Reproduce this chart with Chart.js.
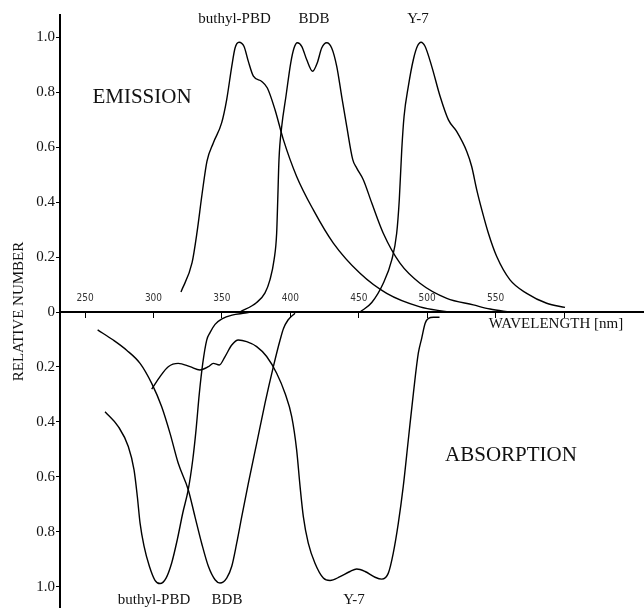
<!DOCTYPE html>
<html>
<head>
<meta charset="utf-8">
<script src="https://cdn.jsdelivr.net/npm/chart.js@4.4.1/dist/chart.umd.min.js"></script>
<style>
  html, body { margin: 0; padding: 0; background: #fff; }
  #wrap { width: 644px; height: 608px; position: relative; }
</style>
</head>
<body>
<div id="wrap"><canvas id="myChart"></canvas></div>
<script>
// wavelengths (nm) and relative numbers
// emission spectra (upwards)
const pbdEmWl  = [320.1, 328.2, 331.8, 335.5, 339.1, 343.7, 349.8, 353.5, 357.2, 359.6, 362.5, 366.1, 369.3, 373.0, 379.1, 383.2, 388.8, 394.9, 404.6, 416.8, 431.4, 450.9, 470.4, 494.7, 514.3];
const pbdEmVal = [0.073, 0.18, 0.29, 0.43, 0.55, 0.616, 0.689, 0.774, 0.895, 0.962, 0.983, 0.968, 0.913, 0.859, 0.84, 0.816, 0.737, 0.628, 0.494, 0.372, 0.251, 0.141, 0.068, 0.019, 0.001];

const bdbEmWl  = [363.2, 375.4, 381.5, 385.1, 388.1, 390.0, 390.8, 391.7, 393.7, 396.8, 400.3, 402.7, 405.1, 408.3, 411.9, 416.3, 419.7, 422.9, 426.6, 430.2, 433.9, 437.5, 441.2, 445.6, 448.5, 453.3, 459.5, 467.9, 480.1, 494.7, 514.3, 533.7, 545.9, 560.5];
const bdbEmVal = [0, 0.035, 0.07, 0.117, 0.19, 0.287, 0.409, 0.555, 0.676, 0.786, 0.908, 0.962, 0.981, 0.968, 0.92, 0.877, 0.908, 0.962, 0.981, 0.962, 0.895, 0.786, 0.676, 0.555, 0.524, 0.482, 0.397, 0.287, 0.178, 0.105, 0.05, 0.026, 0.011, 0];

const y7EmWl  = [450.9, 459.5, 467.9, 474.1, 477.7, 479.6, 481.4, 483.1, 486.2, 489.9, 492.8, 495.5, 498.4, 503.3, 509.4, 515.5, 521.5, 528.9, 532.5, 536.2, 539.9, 544.7, 550.8, 560.5, 572.7, 587.3, 600.7];
const y7EmVal = [0, 0.035, 0.105, 0.19, 0.287, 0.409, 0.591, 0.713, 0.822, 0.92, 0.968, 0.983, 0.968, 0.895, 0.786, 0.70, 0.658, 0.585, 0.53, 0.445, 0.372, 0.287, 0.202, 0.117, 0.068, 0.032, 0.017];

// absorption spectra (magnitudes, drawn downwards)
const pbdAbWl  = [264.6, 274.3, 281.6, 285.8, 288.2, 290.2, 293.1, 297.0, 301.1, 304.8, 309.2, 313.3, 317.4, 321.4, 325.4, 328.7, 331.1, 333.5, 336.0, 338.9, 341.3, 345.0, 350.0, 357.4, 366.9, 371.5];
const pbdAbVal = [0.363, 0.417, 0.49, 0.575, 0.672, 0.769, 0.853, 0.926, 0.977, 0.989, 0.969, 0.914, 0.829, 0.732, 0.647, 0.538, 0.429, 0.296, 0.187, 0.102, 0.075, 0.045, 0.025, 0.011, 0.004, 0];

const bdbAbWl  = [259.2, 270.6, 280.4, 290.2, 298.7, 306.0, 312.1, 318.1, 325.4, 330.3, 335.2, 340.1, 345.0, 348.6, 353.5, 357.2, 360.8, 364.5, 369.3, 375.4, 381.5, 387.6, 392.5, 395.0, 398.3, 403.4];
const bdbAbVal = [0.065, 0.102, 0.139, 0.187, 0.26, 0.345, 0.442, 0.551, 0.647, 0.745, 0.842, 0.926, 0.975, 0.987, 0.969, 0.926, 0.842, 0.745, 0.624, 0.478, 0.332, 0.199, 0.102, 0.06, 0.029, 0.004];

const y7AbWl  = [298.7, 304.8, 310.8, 318.1, 326.7, 334.0, 340.1, 343.7, 348.1, 352.3, 357.2, 362.0, 368.1, 375.4, 382.7, 390.0, 396.1, 401.0, 404.6, 407.1, 409.5, 413.1, 418.0, 424.1, 429.0, 436.3, 443.6, 448.5, 454.6, 461.9, 466.8, 471.6, 475.2, 478.9, 482.5, 486.2, 489.9, 493.5, 496.0, 498.5, 500.9, 504.6, 509.0];
const y7AbVal = [0.281, 0.235, 0.199, 0.187, 0.199, 0.211, 0.199, 0.187, 0.193, 0.162, 0.12, 0.102, 0.108, 0.126, 0.162, 0.223, 0.296, 0.381, 0.502, 0.635, 0.745, 0.842, 0.915, 0.969, 0.978, 0.964, 0.945, 0.936, 0.945, 0.966, 0.973, 0.951, 0.878, 0.769, 0.635, 0.465, 0.296, 0.15, 0.095, 0.041, 0.023, 0.019, 0.019];

// axis ticks
const xTicks = [250, 300, 350, 400, 450, 500, 550, 600];
const xTickLabels = ['250', '300', '350', '400', '450', '500', '550', ''];
const yTicks = [-1, -0.8, -0.6, -0.4, -0.2, 0, 0.2, 0.4, 0.6, 0.8, 1];

// text written on the plot, anchored in data coordinates
const notes = [
    { text: 'buthyl-PBD', x: 359.2, y: 1.067, size: 15 },
    { text: 'BDB', x: 417.3, y: 1.067, size: 15 },
    { text: 'Y-7', x: 493.3, y: 1.067, size: 15 },
    { text: 'EMISSION', x: 291.6, y: 0.783, size: 21 },
    { text: 'ABSORPTION', x: 561.2, y: -0.521, size: 21 },
    { text: 'WAVELENGTH [nm]', x: 594.1, y: -0.044, size: 15 },
    { text: 'buthyl-PBD', x: 300.4, y: -1.049, size: 15 },
    { text: 'BDB', x: 353.7, y: -1.049, size: 15 },
    { text: 'Y-7', x: 446.5, y: -1.049, size: 15 }
];

const serif = '"Liberation Serif", "Times New Roman", serif';
Chart.defaults.font.family = serif;
Chart.defaults.color = '#111';

const pts = (wl, val, sign) => wl.map((w, i) => ({ x: w, y: sign * val[i] }));
const curve = (data) => ({
    data: data,
    borderColor: '#000',
    borderWidth: 1.4,
    pointRadius: 0,
    fill: false,
    cubicInterpolationMode: 'monotone'
});

const notesPlugin = {
    id: 'notes',
    afterDatasetsDraw(chart) {
        const c = chart.ctx;
        const xs = chart.scales.x, ys = chart.scales.y;
        c.save();
        c.fillStyle = '#111';
        c.textAlign = 'center';
        c.textBaseline = 'middle';
        notes.forEach(n => {
            c.font = n.size + 'px ' + serif;
            c.fillText(n.text, xs.getPixelForValue(n.x), ys.getPixelForValue(n.y));
        });
        c.restore();
    }
};

const ctx = document.getElementById('myChart').getContext('2d');
const myChart = new Chart(ctx, {
    type: 'line',
    data: {
        datasets: [
            curve(pts(pbdEmWl, pbdEmVal, 1)),
            curve(pts(bdbEmWl, bdbEmVal, 1)),
            curve(pts(y7EmWl, y7EmVal, 1)),
            curve(pts(pbdAbWl, pbdAbVal, -1)),
            curve(pts(bdbAbWl, bdbAbVal, -1)),
            curve(pts(y7AbWl, y7AbVal, -1))
        ]
    },
    options: {
        responsive: true,
        maintainAspectRatio: false,
        animation: false,
        layout: { padding: { top: 15, right: 0, bottom: 0, left: 0 } },
        plugins: {
            legend: { display: false },
            tooltip: { enabled: false }
        },
        scales: {
            x: {
                type: 'linear',
                min: 231.7,
                max: 658.4,
                position: { y: 0 },
                afterBuildTicks: (scale) => { scale.ticks = xTicks.map(v => ({ value: v })); },
                ticks: {
                    autoSkip: false,
                    maxRotation: 0,
                    padding: -25,
                    color: '#333',
                    font: { family: '"Liberation Sans Narrow", "DejaVu Sans Condensed", sans-serif', size: 10 },
                    callback: (v) => xTickLabels[xTicks.indexOf(v)]
                },
                grid: { display: true, drawOnChartArea: false, drawTicks: true, tickLength: 5, color: '#000', lineWidth: 1 },
                border: { display: true, color: '#000', width: 2 }
            },
            y: {
                type: 'linear',
                min: -1.078,
                max: 1.082,
                afterBuildTicks: (scale) => { scale.ticks = yTicks.map(v => ({ value: v })); },
                afterFit: (scale) => {
                    scale.width = 60;
                    scale.paddingTop = 0;
                    scale.paddingBottom = 0;
                },
                ticks: {
                    padding: 1,
                    color: '#111',
                    font: { size: 15 },
                    callback: (v) => v === 0 ? '0' : Math.abs(v).toFixed(1)
                },
                grid: { display: true, drawOnChartArea: false, drawTicks: true, tickLength: 4, color: '#000' },
                border: { display: true, color: '#000', width: 2 },
                title: {
                    display: true,
                    text: 'RELATIVE NUMBER',
                    color: '#111',
                    font: { size: 15 },
                    padding: { top: 10, bottom: 0 }
                }
            }
        }
    },
    plugins: [notesPlugin]
});
</script>
</body>
</html>
